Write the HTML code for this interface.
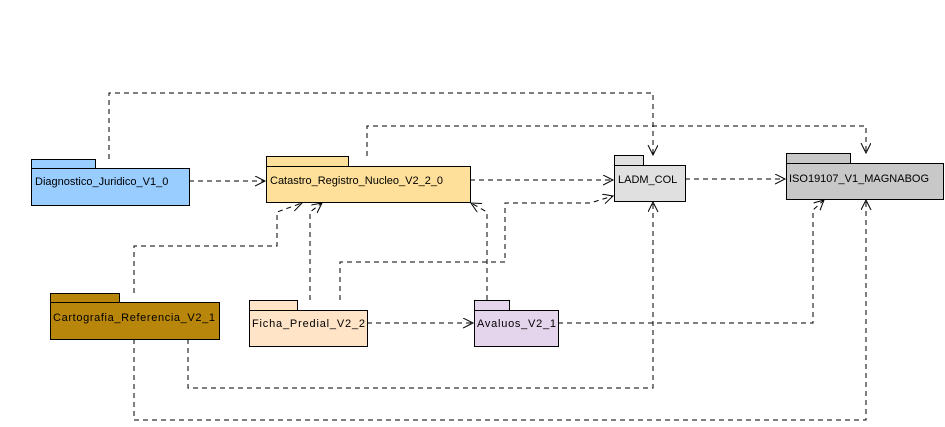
<!DOCTYPE html>
<html><head><style>
body{margin:0;background:#fff;width:945px;height:422px;overflow:hidden}
svg text{font-family:"Liberation Sans",sans-serif;font-size:11px;fill:#000}
</style></head><body>
<svg width="945" height="422" xmlns="http://www.w3.org/2000/svg">
<defs><marker id="a" markerWidth="12" markerHeight="12" refX="10" refY="5" orient="auto" markerUnits="userSpaceOnUse"><path d="M0,0 L10,5 L0,10" fill="none" stroke="#000" stroke-width="1"/></marker></defs>
<g fill="none" stroke="#000" stroke-width="1" stroke-dasharray="5,4">
<polyline points="109,159 109,93 653,93 653,155" marker-end="url(#a)"/>
<polyline points="367,156 367,126 866,126 866,153" marker-end="url(#a)"/>
<line x1="189" y1="181" x2="265" y2="181" marker-end="url(#a)"/>
<line x1="470" y1="180" x2="613" y2="180" marker-end="url(#a)"/>
<line x1="685" y1="179" x2="785" y2="179" marker-end="url(#a)"/>
<polyline points="134,293 134,246 277,246 277,212 302,203" marker-end="url(#a)"/>
<polyline points="310,300 310,212 322,203" marker-end="url(#a)"/>
<polyline points="340,300 340,262 505,262 505,203 590,203 613,196" marker-end="url(#a)"/>
<polyline points="487,300 487,212 471,203" marker-end="url(#a)"/>
<line x1="367" y1="323" x2="473" y2="323" marker-end="url(#a)"/>
<polyline points="558,323 813,323 813,210 824,200" marker-end="url(#a)"/>
<polyline points="188,339 188,388 653,388 653,202" marker-end="url(#a)"/>
<polyline points="134,339 134,420 866,420 866,200" marker-end="url(#a)"/>
</g>
<g stroke="#000" stroke-width="1">
<rect x="31.5" y="159.5" width="64" height="9" fill="#99ccff"/><rect x="31.5" y="168.5" width="158" height="37" fill="#99ccff"/>
<rect x="266.5" y="156.5" width="82" height="10" fill="#ffe09a"/><rect x="266.5" y="166.5" width="204" height="36" fill="#ffe09a"/>
<rect x="614.5" y="155.5" width="29" height="10" fill="#e0e0e0"/><rect x="614.5" y="165.5" width="71" height="36" fill="#e0e0e0"/>
<rect x="786.5" y="153.5" width="64" height="10" fill="#c8c8c8"/><rect x="786.5" y="163.5" width="157" height="36" fill="#c8c8c8"/>
<rect x="50.5" y="293.5" width="69" height="9" fill="#b8860b"/><rect x="50.5" y="302.5" width="169" height="37" fill="#b8860b"/>
<rect x="249.5" y="300.5" width="48" height="10" fill="#ffe4c8"/><rect x="249.5" y="310.5" width="118" height="36" fill="#ffe4c8"/>
<rect x="474.5" y="300.5" width="35" height="10" fill="#e4d4ec"/><rect x="474.5" y="310.5" width="84" height="36" fill="#e4d4ec"/>
</g>
<text x="35" y="185">Diagnostico_Juridico_V1_0</text>
<text x="270" y="184">Catastro_Registro_Nucleo_V2_2_0</text>
<text x="618" y="183">LADM_COL</text>
<text x="789" y="182">ISO19107_V1_MAGNABOG</text>
<text x="53" y="321" textLength="162">Cartografia_Referencia_V2_1</text>
<text x="252" y="327" textLength="113">Ficha_Predial_V2_2</text>
<text x="477" y="327" textLength="79">Avaluos_V2_1</text>
</svg>
</body></html>
